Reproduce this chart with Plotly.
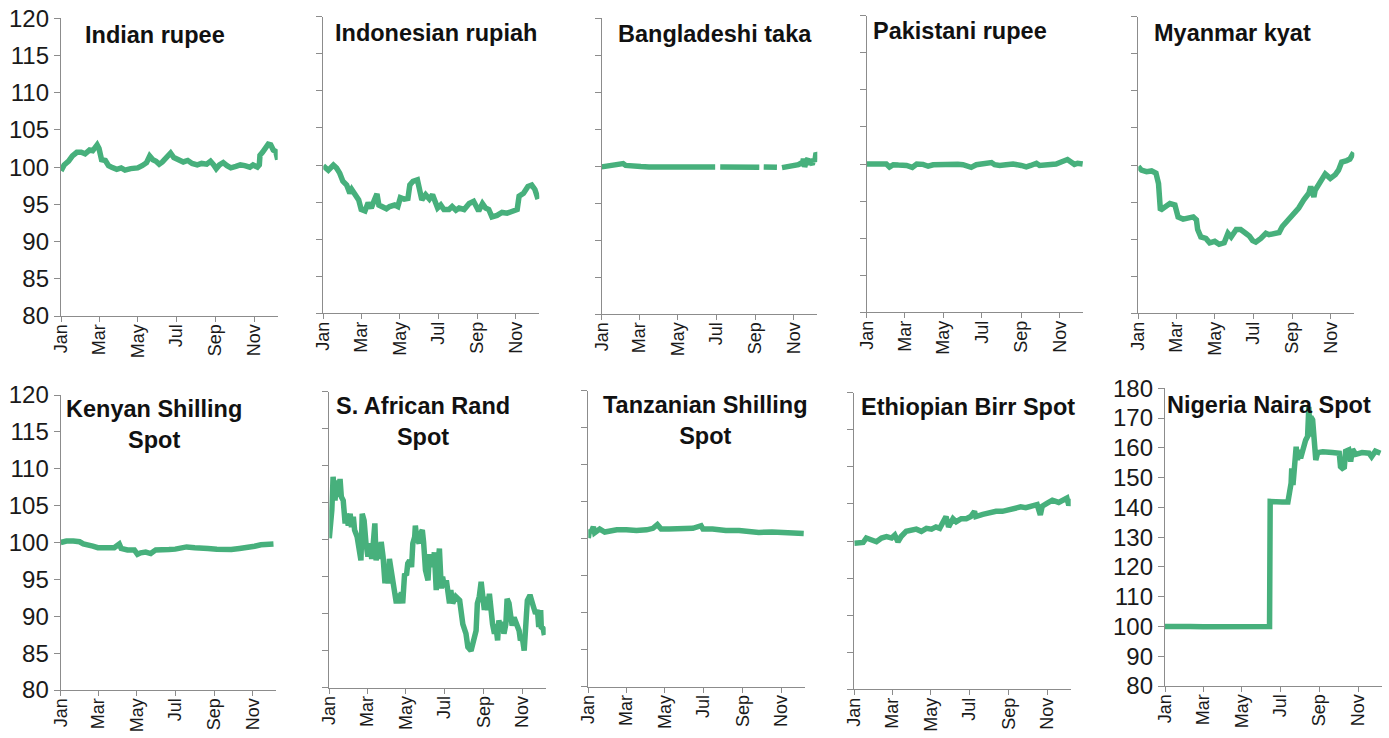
import pandas as pd
import plotly.graph_objects as go

# ---------------- data (day offsets from 1 Jan 2016, index values) ----------------
india_days = [0, 5, 12, 18, 25, 32, 38, 45, 50, 57, 60, 64, 70, 75, 80, 88, 95, 101, 110, 121,
              128, 135, 140, 145, 150, 155, 160, 170, 173, 178, 185, 193, 200, 207, 215, 222, 230, 236, 241, 245,
              250, 256, 262, 268, 276, 283, 290, 298, 303, 310, 313, 314, 318, 322, 327, 331, 335, 339, 342]
india_vals = [99.5, 100.3, 100.8, 101.5, 102.0, 102.0, 101.8, 102.3, 102.2, 103.0, 102.5, 101.0, 100.9, 100.2, 100.0, 99.7, 99.9, 99.6, 99.8, 99.9,
              100.2, 100.6, 101.5, 101.0, 100.8, 100.4, 100.7, 101.5, 101.9, 101.3, 101.0, 100.7, 100.9, 100.5, 100.3, 100.5, 100.4, 100.8, 100.3, 99.8,
              100.3, 100.6, 100.2, 99.9, 100.1, 100.3, 100.2, 100.0, 100.3, 100.0, 100.3, 101.6, 102.0, 102.5, 103.1, 103.0, 102.3, 102.1, 101.0]

indo_days = [0, 8, 16, 21, 26, 31, 37, 42, 45, 50, 56, 60, 66, 71, 76, 81, 85, 88, 94, 100,
             105, 113, 118, 122, 128, 134, 137, 142, 149, 152, 156, 162, 168, 173, 176, 181, 186, 191, 199, 204,
             210, 215, 223, 231, 238, 246, 252, 257, 262, 267, 275, 283, 291, 299, 307, 310, 317, 324, 330, 335, 340]
indo_vals = [99.9, 99.3, 100.0, 99.6, 98.9, 97.8, 97.3, 96.2, 96.7, 96.0, 95.3, 94.0, 93.8, 94.9, 94.2, 95.3, 96.1, 94.6, 94.4, 94.1,
             94.4, 94.6, 94.4, 95.6, 95.4, 95.5, 97.3, 97.8, 98.0, 97.1, 95.3, 96.0, 95.4, 96.0, 95.1, 94.2, 94.6, 94.0, 94.0, 94.4,
             93.9, 94.2, 94.0, 94.8, 95.1, 93.8, 94.8, 94.2, 94.0, 93.0, 93.2, 93.6, 93.5, 93.8, 94.0, 95.8, 96.2, 97.1, 97.3, 96.7, 95.4]

bd_days = [0, 10, 20, 30, 34, 38, 50, 58, 60, 62, 75, 90, 105, 110, 120, 140, 155, 170, 180, 181,
           188, 200, 215, 230, 240, 250, 251, 257, 265, 278, 279, 286, 295, 305, 312, 316, 318, 320, 322, 325,
           327, 329, 331, 334, 336, 338, 340, 342]
bd_vals = [99.9, 100.0, 100.1, 100.2, 100.35, 100.1, 100.0, 99.9, 99.8, 99.95, 99.9, 99.9, 99.9, 99.8, 99.9, 99.9, 99.8, 99.9, 99.9, None,
           99.9, 99.9, 99.9, 99.8, 99.9, 99.85, None, 99.9, 99.9, 99.85, None, 99.8, 99.9, 100.0, 100.2, 100.4, 100.1, 101.0, 99.9, 100.8,
           101.0, 100.2, 100.6, 100.2, 101.0, 100.6, 101.8, 101.5]

pk_days = [0, 16, 23, 31, 36, 42, 50, 58, 63, 72, 79, 89, 97, 105, 115, 126, 136, 144, 152, 160,
           165, 173, 183, 197, 202, 210, 220, 231, 244, 252, 259, 268, 273, 280, 288, 299, 308, 317, 322, 328, 333, 341]
pk_vals = [100.0, 100.05, 99.9, 100.0, 99.6, 99.9, 99.85, 99.9, 99.8, 99.55, 100.0, 99.95, 99.7, 99.9, 99.95, 99.9, 100.0, 99.95, 99.9, 99.6,
           99.55, 99.9, 100.0, 100.2, 99.9, 99.8, 99.9, 100.0, 99.8, 99.6, 99.8, 100.1, 99.8, 99.85, 99.9, 100.0, 100.3, 100.6, 100.3, 99.95, 100.1, 100.0]

mm_days = [0, 5, 13, 21, 28, 32, 35, 42, 50, 58, 63, 71, 79, 87, 92, 94, 99, 107, 113, 121,
           128, 136, 142, 147, 155, 162, 170, 176, 181, 186, 194, 202, 207, 215, 223, 228, 238, 246, 254, 262,
           270, 273, 278, 280, 288, 296, 304, 312, 317, 322, 330, 335, 341]
mm_vals = [99.8, 99.3, 99.1, 99.2, 98.9, 97.5, 93.9, 94.4, 94.8, 94.6, 93.0, 92.7, 92.8, 93.0, 92.6, 91.3, 90.3, 90.1, 89.5, 89.7,
           89.3, 89.5, 90.8, 90.3, 91.3, 91.3, 90.8, 90.4, 89.8, 89.6, 90.1, 90.8, 90.6, 90.8, 90.9, 91.7, 92.6, 93.5, 94.2, 95.3,
           96.2, 97.1, 95.7, 96.6, 97.8, 98.8, 98.2, 98.7, 99.3, 100.4, 100.6, 100.8, 101.7]

ke_days = [0, 9, 20, 30, 36, 42, 51, 59, 72, 85, 93, 96, 106, 117, 122, 127, 135, 143, 151, 161,
           172, 182, 193, 200, 213, 224, 234, 248, 261, 271, 284, 297, 308, 318, 329, 338]
ke_vals = [100.0, 100.2, 100.2, 100.1, 99.8, 99.6, 99.5, 99.3, 99.3, 99.3, 99.8, 99.2, 99.0, 99.0, 98.4, 98.6, 98.7, 98.5, 99.0, 99.1,
           99.05, 99.1, 99.3, 99.4, 99.3, 99.3, 99.2, 99.1, 99.05, 99.05, 99.2, 99.3, 99.5, 99.7, 99.8, 99.8]

za_days = [0, 4, 6, 9, 12, 14, 17, 19, 22, 25, 27, 30, 33, 35, 38, 40, 44, 47, 50, 52,
           55, 58, 61, 64, 67, 69, 72, 74, 77, 80, 82, 85, 88, 90, 93, 95, 98, 101, 103, 106,
           109, 111, 114, 116, 119, 122, 124, 127, 130, 132, 135, 136, 138, 142, 144, 147, 149, 152, 156, 158,
           161, 164, 166, 169, 171, 174, 177, 179, 182, 185, 190, 192, 195, 200, 206, 211, 216, 219, 224, 226,
           229, 232, 234, 237, 240, 242, 245, 247, 250, 253, 255, 258, 261, 263, 266, 268, 271, 274, 276, 279,
           281, 284, 287, 289, 292, 295, 297, 300, 302, 305, 308, 310, 313, 316, 318, 321, 323, 326, 329, 331,
           334, 335, 338, 340]
za_vals = [100.2, 104.0, 108.5, 105.3, 108.0, 105.8, 108.2, 105.8, 105.3, 102.2, 103.5, 101.9, 103.5, 101.7, 103.1, 101.3, 100.4, 98.6, 97.2, 103.5,
           102.6, 99.5, 97.7, 99.5, 97.4, 99.0, 102.2, 97.2, 99.5, 97.4, 99.7, 97.7, 94.1, 95.9, 94.1, 97.4, 95.9, 93.4, 93.2, 91.4,
           92.7, 91.4, 92.9, 91.4, 95.4, 95.2, 96.8, 97.2, 96.3, 99.5, 100.4, 101.9, 100.4, 99.5, 100.8, 101.3, 99.7, 95.9, 94.5, 97.7,
           97.7, 96.3, 98.3, 93.2, 95.9, 98.8, 93.4, 95.0, 93.6, 94.5, 91.4, 93.2, 91.4, 92.3, 91.8, 88.6, 87.3, 85.5, 85.0, 85.9,
           86.8, 87.7, 91.4, 92.3, 94.3, 91.8, 90.5, 92.3, 90.5, 92.7, 90.5, 88.6, 87.3, 88.6, 86.4, 89.1, 87.7, 88.9, 87.3, 88.6,
           92.0, 91.4, 89.5, 88.4, 89.5, 88.6, 88.2, 87.7, 86.4, 86.8, 85.0, 87.3, 91.8, 92.3, 92.3, 91.4, 90.9, 90.0, 90.5, 88.2,
           90.5, 88.2, 88.0, 87.1]

tz_days = [0, 2, 4, 8, 10, 13, 18, 26, 34, 45, 60, 76, 92, 102, 109, 115, 128, 144, 165, 178,
           181, 196, 217, 238, 249, 256, 269, 290, 306, 322, 340]
tz_vals = [100.1, 101.2, 100.8, 101.6, 100.8, 101.0, 101.3, 100.9, 101.1, 101.2, 101.2, 101.1, 101.2, 101.4, 101.9, 101.3, 101.3, 101.35, 101.4, 101.75,
           101.3, 101.3, 101.1, 101.1, 101.0, 100.8, 100.85, 100.9, 100.8, 100.8, 100.7]

et_days = [0, 6, 14, 19, 27, 35, 43, 51, 59, 64, 69, 74, 82, 90, 98, 106, 114, 122, 129, 135,
           140, 145, 149, 156, 161, 169, 177, 184, 190, 192, 203, 213, 224, 234, 245, 255, 263, 271, 281, 289,
           294, 297, 305, 313, 323, 331, 336, 339, 342]
et_vals = [99.7, 99.7, 99.8, 100.4, 100.2, 99.9, 100.4, 100.6, 100.4, 100.8, 99.9, 100.6, 101.3, 101.5, 101.6, 101.3, 101.7, 101.6, 101.9, 101.7,
           102.6, 103.3, 101.9, 103.0, 102.6, 103.0, 103.0, 103.3, 104.0, 103.3, 103.6, 103.8, 104.0, 104.0, 104.2, 104.3, 104.6, 104.5, 104.7, 104.9,
           103.5, 104.7, 105.1, 105.5, 105.2, 105.6, 105.8, 104.8, 105.7]

ng_days = [0, 20, 40, 60, 80, 100, 120, 140, 160, 165, 166, 175, 185, 194, 196, 199, 200, 202, 204, 207,
           209, 212, 214, 218, 222, 225, 227, 229, 230, 233, 235, 238, 241, 249, 264, 275, 277, 280, 283, 285,
           290, 293, 296, 301, 311, 322, 326, 332, 340]
ng_vals = [100, 99.8, 100, 99.9, 100, 99.9, 100, 99.9, 100, 100, 142, 141.7, 141.8, 141.8, 144.2, 148.1, 153.1, 147.5, 152.6, 160.4,
           155.9, 159.3, 156.5, 160.4, 162.6, 163.8, 173.8, 163.8, 170.5, 169.4, 163.8, 155.9, 158.4, 158.7, 158.4, 158.2, 153.7, 153.1, 153.5, 158.8,
           159.3, 155.4, 159.5, 157.8, 158.4, 158.2, 157, 158.9, 158.2]

titles = ["Indian rupee", "Indonesian rupiah", "Bangladeshi taka", "Pakistani rupee", "Myanmar kyat",
          "Kenyan Shilling<br>Spot", "S. African Rand<br>Spot", "Tanzanian Shilling<br>Spot",
          "Ethiopian Birr Spot", "Nigeria Naira Spot"]
series = [(india_days, india_vals), (indo_days, indo_vals), (bd_days, bd_vals), (pk_days, pk_vals),
          (mm_days, mm_vals), (ke_days, ke_vals), (za_days, za_vals), (tz_days, tz_vals),
          (et_days, et_vals), (ng_days, ng_vals)]
month_ticks = ["2016-01-01", "2016-03-01", "2016-05-01", "2016-07-01", "2016-09-01", "2016-11-01"]
month_labels = ["Jan", "Mar", "May", "Jul", "Sep", "Nov"]

# ---------------- layout geometry (window pixels) ----------------
W, H = 1389, 738
# x0, x1, ytop, ybottom in window pixels
boxes = [
    (61.0, 277.7, 18.3, 316.0),
    (323.3, 539.3, 16.7, 313.3),
    (601.7, 817.3, 18.3, 314.0),
    (866.7, 1083.3, 15.7, 312.3),
    (1138.3, 1354.3, 16.7, 313.3),
    (60.7, 276.0, 395.0, 690.0),
    (329.3, 545.7, 391.7, 687.7),
    (588.3, 805.0, 390.7, 686.7),
    (854.3, 1070.7, 392.7, 689.3),
    (1165.0, 1381.7, 388.3, 686.0),
]
title_pos = [(155, 35), (436, 33), (715, 34), (960, 31), (1232, 33),
             (154, 424), (423, 421), (705, 420), (968, 407), (1269, 405)]
show_ylabels = [True, False, False, False, False, True, False, False, False, True]


def px_x(x):
    return x / W


def px_y(y):
    return 1 - y / H


GREEN = "rgb(71,176,124)"
AXIS = "#8c8c8c"
FONT = "Liberation Sans, Arial, sans-serif"

fig = go.Figure()
base = pd.Timestamp("2016-01-01")
layout = dict(width=W, height=H, margin=dict(l=0, r=0, t=0, b=0, autoexpand=False),
              paper_bgcolor="white", plot_bgcolor="white", showlegend=False,
              font=dict(family=FONT, color="#1a1a1a"))
annotations = []
for i, ((days, vals), (x0, x1, yt, yb)) in enumerate(zip(series, boxes)):
    n = i + 1
    sfx = "" if n == 1 else str(n)
    dates = [base + pd.Timedelta(days=d) for d in days]
    fig.add_trace(go.Scatter(x=dates, y=vals, mode="lines", connectgaps=False,
                             line=dict(color=GREEN, width=5.5), xaxis="x" + sfx, yaxis="y" + sfx,
                             hoverinfo="skip"))
    nig = (n == 10)
    layout["xaxis" + sfx] = dict(
        domain=[px_x(x0), px_x(x1)], anchor="y" + sfx, type="date", automargin=False,
        range=["2016-01-01", "2016-12-08"], tickvals=month_ticks, ticktext=month_labels,
        tickangle=-90, ticks="outside", ticklen=5, tickcolor=AXIS, tickwidth=1,
        ticklabelstandoff=-5, ticklabeloverflow="allow",
        showline=True, linecolor=AXIS, linewidth=1.3, showgrid=False, zeroline=False,
        tickfont=dict(size=18, family=FONT, color="#1a1a1a"))
    layout["yaxis" + sfx] = dict(
        domain=[px_y(yb), px_y(yt)], anchor="x" + sfx, automargin=False,
        range=[80, 180] if nig else [80, 120], dtick=10 if nig else 5, tick0=80,
        ticks="outside", ticklen=6, tickcolor=AXIS, tickwidth=1, ticklabeloverflow="allow",
        showline=True, linecolor=AXIS, linewidth=1.3, showgrid=False, zeroline=False,
        showticklabels=show_ylabels[i],
        tickfont=dict(size=24, family=FONT, color="#1a1a1a"))
    tx, ty = title_pos[i]
    annotations.append(dict(text="<b>" + titles[i] + "</b>", x=px_x(tx), y=px_y(ty),
                            xref="paper", yref="paper", xanchor="center", yanchor="middle",
                            showarrow=False, font=dict(size=23.5, family=FONT, color="#111")))
layout["annotations"] = annotations
fig.update_layout(**layout)
# remove the browser's default 8px body margin so the figure fills the window exactly
fig.write_html("out.html", config={"displayModeBar": False},
               post_script="document.body.style.margin='0';document.body.style.overflow='hidden';")
